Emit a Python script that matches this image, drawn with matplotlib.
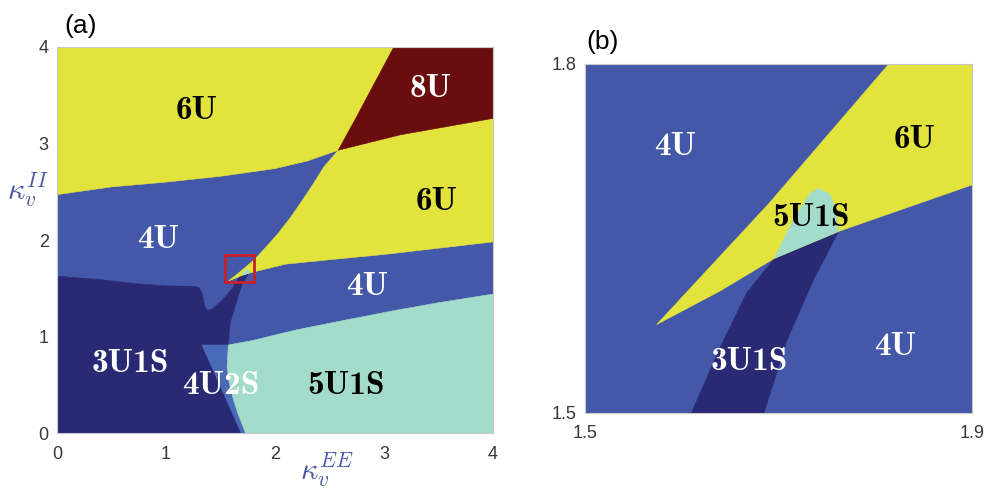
import os
import matplotlib
matplotlib.use("Agg")
import matplotlib.pyplot as plt
from matplotlib.patches import Polygon, Rectangle, ConnectionPatch
from matplotlib.font_manager import FontProperties

plt.rcParams['mathtext.fontset'] = 'cm'
plt.rcParams['font.family'] = ['Liberation Sans', 'DejaVu Sans']

# Computer Modern bold shipped with matplotlib, for the region names
CMB = FontProperties(fname=os.path.join(matplotlib.get_data_path(),
                                        'fonts', 'ttf', 'cmb10.ttf'), size=24)

# region boundaries in (kappa_EE, kappa_II), traced as closed outlines
navy_3u1s = [(0, 0), (1.73, 0), (1.66, 0.2), (1.62, 0.34), (1.58, 0.52),
             (1.56, 0.69), (1.572, 0.912), (1.587, 1.137), (1.633, 1.309),
             (1.685, 1.5), (1.709, 1.563), (1.736, 1.614), (1.762, 1.656),
             (1.696, 1.633), (1.667, 1.603), (1.640, 1.557), (1.610, 1.5),
             (1.557, 1.430), (1.51, 1.37), (1.465, 1.326), (1.42, 1.285),
             (1.385, 1.27), (1.36, 1.30), (1.345, 1.37), (1.33, 1.45),
             (1.30, 1.51), (1.25, 1.52), (1.0, 1.525), (0.7, 1.55),
             (0.4, 1.59), (0.1, 1.615), (0.05, 1.625), (0, 1.62)]
blue_4u2s = [(1.33, 0.912), (1.572, 0.912), (1.56, 0.69), (1.58, 0.52),
             (1.62, 0.34), (1.66, 0.2), (1.73, 0), (1.69, 0)]
teal_5u1s = [(1.73, 0), (4, 0), (4, 1.44), (3.5, 1.35), (3.1, 1.27),
             (2.6, 1.16), (2.2, 1.07), (1.8, 0.96), (1.572, 0.912),
             (1.56, 0.69), (1.58, 0.52), (1.62, 0.34), (1.66, 0.2)]
yellow_6u = [(0, 2.47), (0.5, 2.55), (1.0, 2.60), (1.5, 2.66), (2.0, 2.74),
             (2.3, 2.82), (2.58, 2.93), (2.45, 2.76), (2.35, 2.58),
             (2.25, 2.41), (2.14, 2.23), (2.03, 2.07), (1.92, 1.93),
             (1.814, 1.8), (1.69, 1.68), (1.574, 1.576), (1.640, 1.605),
             (1.696, 1.633), (1.762, 1.656), (1.9, 1.696), (2.1, 1.75),
             (2.54, 1.80), (3.0, 1.85), (3.46, 1.91), (4, 1.98), (4, 4), (0, 4)]
red_8u = [(3.09, 4), (2.91, 3.62), (2.75, 3.28), (2.58, 2.93), (3.15, 3.09),
          (3.6, 3.18), (4, 3.26), (4, 4)]
teal_spot = [(1.696, 1.633), (1.715, 1.666), (1.733, 1.689), (1.741, 1.693),
             (1.753, 1.688), (1.759, 1.675), (1.762, 1.656)]

labels_a = [('6U', 1.28, 3.34, 'k'), ('8U', 3.43, 3.57, 'w'),
            ('6U', 3.48, 2.40, 'k'), ('4U', 0.93, 2.01, 'w'),
            ('4U', 2.85, 1.52, 'w'), ('3U1S', 0.67, 0.72, 'w'),
            ('4U2S', 1.50, 0.49, 'w'), ('5U1S', 2.65, 0.49, 'k')]
labels_b = [('4U', 1.593, 1.729, 'w'), ('6U', 1.841, 1.735, 'k'),
            ('5U1S', 1.734, 1.668, 'k'), ('3U1S', 1.670, 1.544, 'w'),
            ('4U', 1.821, 1.557, 'w')]

zoom_box = (1.54, 1.56, 0.27, 0.28)

C_4U = '#4358a8'
regions = [(navy_3u1s, '#2a2a74'), (blue_4u2s, '#4a69b6'),
           (teal_5u1s, '#a3dccb'), (yellow_6u, '#e3e33d'),
           (red_8u, '#6a0d0f'), (teal_spot, '#a3dccb')]

fig = plt.figure(figsize=(9.89, 4.91), dpi=100)
ax1 = fig.add_axes([0.0576, 0.1181, 0.4409, 0.7862])
ax2 = fig.add_axes([0.5915, 0.1589, 0.3913, 0.7108])


def draw_map(ax, labels):
    ax.set_facecolor(C_4U)
    for pts, c in regions:
        ax.add_patch(Polygon(pts, closed=True, facecolor=c, edgecolor=c,
                             lw=0.4, zorder=1))
    for txt, x, y, c in labels:
        ax.text(x, y, txt, color=c, fontproperties=CMB,
                ha='center', va='center', zorder=3)
    for s in ax.spines.values():
        s.set_color('#c8c8c8')
        s.set_linewidth(0.8)
        s.set_zorder(4)
    ax.tick_params(length=0, labelsize=13, labelcolor='#383838')
    ax.tick_params(axis='x', pad=9)
    ax.tick_params(axis='y', pad=6)


draw_map(ax1, labels_a)
ax1.set_xlim(0, 4)
ax1.set_ylim(0, 4)
ax1.set_xticks([0, 1, 2, 3, 4])
ax1.set_yticks([0, 1, 2, 3, 4])
ax1.set_xlabel(r'$\kappa_v^{EE}$', fontsize=22, color='#4a58a8')
ax1.xaxis.set_label_coords(0.62, -0.045)
ax1.set_ylabel(r'$\kappa_v^{II}$', fontsize=22, color='#4a58a8',
               rotation=0)
ax1.yaxis.set_label_coords(-0.067, 0.58)
ax1.add_patch(Rectangle(zoom_box[:2], zoom_box[2], zoom_box[3], fill=False,
                        edgecolor='#c4222b', lw=2, zorder=5))

draw_map(ax2, labels_b)
ax2.set_xlim(1.5, 1.9)
ax2.set_ylim(1.5, 1.8)
ax2.set_xticks([1.5, 1.9])
ax2.set_yticks([1.5, 1.8])
ax2.xaxis.set_major_formatter(plt.FormatStrFormatter('%.1f'))
ax2.yaxis.set_major_formatter(plt.FormatStrFormatter('%.1f'))

# arrow from the zoom box to panel (b)
arr = ConnectionPatch(xyA=(zoom_box[0] + zoom_box[2], zoom_box[1] + zoom_box[3]),
                      coordsA='data', axesA=ax1,
                      xyB=(1.4985, 1.783), coordsB='data', axesB=ax2,
                      arrowstyle='-|>', mutation_scale=18, color='#c4222b',
                      lw=1.2, zorder=6)
fig.add_artist(arr)

fig.text(81 / 989, 1 - 26 / 491, '(a)', fontsize=19, ha='center', va='center')
fig.text(603 / 989, 1 - 42 / 491, '(b)', fontsize=19, ha='center', va='center')

fig.savefig('out.png', dpi=100)
